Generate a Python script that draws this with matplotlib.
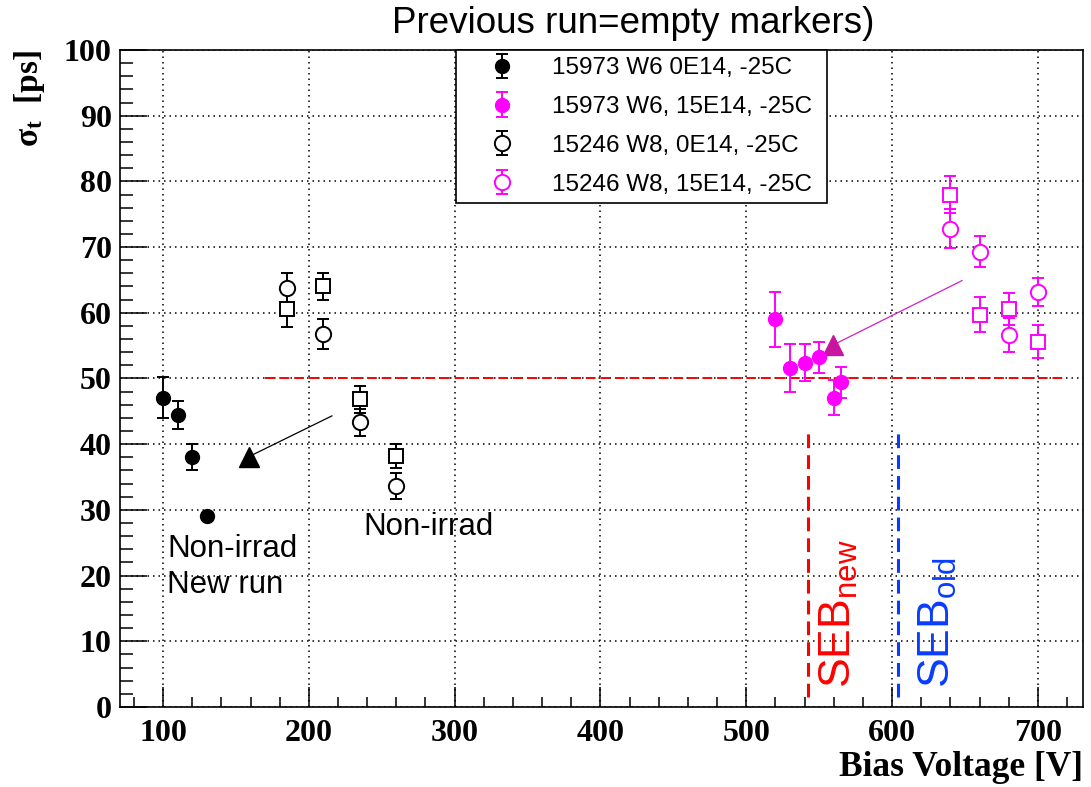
import numpy as np
import matplotlib
matplotlib.use('Agg')
import matplotlib.pyplot as plt
from matplotlib.ticker import MultipleLocator

plt.rcParams['mathtext.fontset'] = 'custom'
plt.rcParams['mathtext.rm'] = 'Liberation Sans'
plt.rcParams['mathtext.it'] = 'Liberation Sans:italic'
plt.rcParams['mathtext.default'] = 'regular'

# 15973 W6 0E14, -25C  (new run, filled)
v_w6_0 = [100, 110, 120, 130]
s_w6_0 = [47.1, 44.4, 38.0, 29.0]
e_w6_0 = [3.1, 2.1, 2.0, 0.5]

# 15973 W6, 15E14, -25C  (new run, filled)
v_w6_15 = [520, 530, 540, 550, 560, 565]
s_w6_15 = [59.0, 51.6, 52.4, 53.2, 47.1, 49.4]
e_w6_15 = [4.2, 3.6, 2.8, 2.3, 2.7, 2.3]

# 15246 W8, 0E14, -25C  (previous run, open circles / squares)
v_w8_0 = [185, 210, 235, 260]
s_w8_0_circ = [63.8, 56.8, 43.3, 33.6]
e_w8_0_circ = [2.3, 2.3, 2.0, 2.0]
s_w8_0_sq = [60.5, 64.0, 46.8, 38.2]
e_w8_0_sq = [2.6, 2.1, 2.1, 1.9]

# 15246 W8, 15E14, -25C
v_w8_15 = [640, 660, 680, 700]
s_w8_15_circ = [72.8, 69.3, 56.6, 63.2]
e_w8_15_circ = [3.0, 2.4, 2.6, 2.1]
s_w8_15_sq = [78.0, 59.7, 60.6, 55.6]
e_w8_15_sq = [2.8, 2.7, 2.4, 2.5]

labels = ['15973 W6 0E14, -25C', '15973 W6, 15E14, -25C',
          '15246 W8, 0E14, -25C', '15246 W8, 15E14, -25C']

# reference lines / annotations
ref_y, ref_x0, ref_x1 = 50, 170, 720
seb_new, seb_old, seb_top = 542.5, 604, 41.7
arrow_black = ((215.8, 44.3), (158.9, 38.1))
arrow_mag = ((648, 64.9), (559.6, 55.1))

MAG = '#ff00ff'
sans = 'Liberation Sans'
serif = 'Liberation Serif'

fig = plt.figure(figsize=(10.91, 7.87), dpi=100)
ax = fig.add_axes([0.110, 0.1017, 0.8827, 0.8348])

ax.set_xlim(70.5, 731)
ax.set_ylim(0, 100)

ax.grid(True, which='major', color='black', linestyle=(0, (1, 2.6)), lw=1.1)
ax.set_axisbelow(True)

ax.plot([ref_x0, ref_x1], [ref_y, ref_y], color='red', ls=(0, (5, 2.5)), lw=1.4, zorder=2)
ax.plot([seb_new, seb_new], [1.5, seb_top], color='red', ls=(0, (4.5, 2.3)), lw=2.2, zorder=2)
ax.plot([seb_old, seb_old], [1.5, seb_top], color='#0a3cff', ls=(0, (4.5, 2.3)), lw=2.2, zorder=2)

eb = dict(capsize=4.3, capthick=1.4, elinewidth=1.4, ls='none', zorder=4)
h1 = ax.errorbar(v_w6_0, s_w6_0, yerr=e_w6_0, fmt='o', color='black', ms=10, **eb)
h2 = ax.errorbar(v_w6_15, s_w6_15, yerr=e_w6_15, fmt='o', color=MAG, ms=10, **eb)
h3 = ax.errorbar(v_w8_0, s_w8_0_circ, yerr=e_w8_0_circ, fmt='o', color='black',
                 mfc='white', mew=1.4, ms=11, **eb)
ax.errorbar(v_w8_0, s_w8_0_sq, yerr=e_w8_0_sq, fmt='s', color='black',
            mfc='white', mew=1.4, ms=10.5, **eb)
h4 = ax.errorbar(v_w8_15, s_w8_15_circ, yerr=e_w8_15_circ, fmt='o', color=MAG,
                 mfc='white', mew=1.4, ms=11, **eb)
ax.errorbar(v_w8_15, s_w8_15_sq, yerr=e_w8_15_sq, fmt='s', color=MAG,
            mfc='white', mew=1.4, ms=10.5, **eb)

# arrows
(x0, y0), (x1, y1) = arrow_black
ax.plot([x0, x1], [y0, y1], color='black', lw=0.9, zorder=3)
ax.plot([x1], [y1], marker='^', color='black', ms=15, zorder=3)
(x0, y0), (x1, y1) = arrow_mag
ax.plot([x0, x1], [y0, y1], color='#d41fc4', lw=0.9, zorder=3)
ax.plot([x1], [y1], marker='^', color='#c8169f', ms=15, zorder=3)

# text annotations
ax.text(103.0, 22.8, 'Non-irrad', fontsize=22.5, family=sans, va='baseline')
ax.text(103.0, 17.3, 'New run', fontsize=22.5, family=sans, va='baseline')
ax.text(237.3, 26.1, 'Non-irrad', fontsize=22.5, family=sans, va='baseline')
ax.text(549.3, 2.9, r'SEB$_{new}$', fontsize=32, family=sans, color='red',
        rotation=90, ha='left', va='bottom')
ax.text(617, 2.9, r'SEB$_{old}$', fontsize=32, family=sans, color='#0a3cff',
        rotation=90, ha='left', va='bottom')

# axes styling (ROOT look)
ax.xaxis.set_major_locator(MultipleLocator(100))
ax.xaxis.set_minor_locator(MultipleLocator(20))
ax.yaxis.set_major_locator(MultipleLocator(10))
ax.yaxis.set_minor_locator(MultipleLocator(2))
ax.tick_params(axis='x', which='major', direction='in', length=14.4, width=1.1, pad=9)
ax.tick_params(axis='x', which='minor', direction='in', length=7.2, width=1.1)
ax.tick_params(axis='y', which='major', direction='in', length=19.4, width=1.1, pad=6)
ax.tick_params(axis='y', which='minor', direction='in', length=9.4, width=1.1)
for lab in ax.get_xticklabels() + ax.get_yticklabels():
    lab.set_family(serif)
    lab.set_fontweight('bold')
    lab.set_fontsize(23)
for sp in ax.spines.values():
    sp.set_linewidth(1.2)

ax.set_xlabel('Bias Voltage [V]', family=serif, fontweight='bold', fontsize=25.5,
              loc='right', labelpad=2)
ax.set_ylabel(r'$\sigma_{t}$  [ps]', family=serif, fontweight='bold', fontsize=24,
              loc='top', labelpad=12)

leg = ax.legend([h1, h2, h3, h4], labels, loc='upper left',
                bbox_to_anchor=(0.349, 0.0, 0.385, 1.0), mode='expand',
                prop={'family': sans, 'size': 17.5}, frameon=True, fancybox=False,
                borderpad=0.3, labelspacing=0.69, handlelength=3.18,
                handletextpad=0.47, borderaxespad=0)
leg.get_frame().set_edgecolor('black')
leg.get_frame().set_linewidth(1.2)
leg.get_frame().set_alpha(1)
leg.set_zorder(10)

fig.text(0.580, 1 - 33 / 787, 'Previous run=empty markers)', ha='center',
         va='baseline', fontsize=26.5, family=sans)

fig.savefig('out.png', dpi=100)
